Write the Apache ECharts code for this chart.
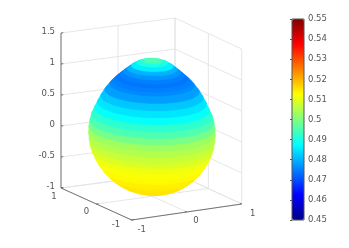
<!DOCTYPE html>
<html><head><meta charset="utf-8">
<style>html,body{margin:0;padding:0;background:#fff}#c{width:349px;height:248px}</style>
<script src="https://cdn.jsdelivr.net/npm/echarts@6/dist/echarts.min.js"></script>
</head><body><div id="c"></div>
<script>
// ---- data ----
var xTicks = [-1, 0, 1];
var yTicks = [-1, 0, 1];
var zTicks = [-1, -0.5, 0, 0.5, 1, 1.5];
var colorTicks = [0.45,0.46,0.47,0.48,0.49,0.5,0.51,0.52,0.53,0.54,0.55];
// egg, one row per latitude ring: height, ring radius, colour value
var ringZ = [-0.95,-0.93,-0.9,-0.85,-0.8,-0.75,-0.7,-0.6,-0.5,-0.4,-0.3,-0.2,-0.1,0,0.1,0.2,0.3,0.4,0.5,0.6,0.7,0.8,0.85,0.9,0.95,1.0,1.05,1.1,1.15,1.18,1.19,1.195];
var ringR = [0,0.2,0.31,0.43,0.515,0.585,0.645,0.74,0.81,0.865,0.91,0.94,0.955,0.963,0.96,0.945,0.92,0.875,0.83,0.78,0.72,0.645,0.6,0.55,0.495,0.44,0.38,0.32,0.24,0.16,0.1,0];
var ringV = [0.515,0.515,0.515,0.515,0.515,0.5145,0.514,0.513,0.512,0.511,0.509,0.507,0.505,0.503,0.499,0.495,0.492,0.488,0.485,0.482,0.478,0.476,0.475,0.474,0.475,0.477,0.48,0.486,0.49,0.494,0.496,0.497];
// ---- styling / layout ----
var jet = ['#000084','#0000ff','#0080ff','#00ffff','#80ff80','#ffff00','#ff8000','#ff0000','#800000'];
var floorFront=[131.7,220], floorLeft=[61,188], floorRight=[241.7,204], floorBack=[175,173];
var zUnit = 62, zFloor = -1, axisMax = 1.5;
var txt = '#555', gridC = '#e3e3e3', axisC = '#666', fnt = '8.5px "DejaVu Sans"';
var yLabelOffset = [[-15.7,5],[-10,8],[-7,9]];   // -1 (front) .. 1 (left)
var xLabelOffset = [[10,9.3],[9.3,9],[11,10]];   // -1 (front) .. 1 (right)

// x runs front->right, y runs front->left
function project(x,y,z){
  var u=(x+1)/2, v=(y+1)/2, out=[0,0];
  for(var i=0;i<2;i++){
    out[i]=(1-u)*(1-v)*floorFront[i]+u*(1-v)*floorRight[i]+(1-u)*v*floorLeft[i]+u*v*floorBack[i];
  }
  out[1]-=(z-zFloor)*zUnit;
  return out;
}
var segGrid=[], segAxis=[];
zTicks.forEach(function(z){
  segGrid.push([-1,1,z,1,1,z]);      // left->back wall
  segGrid.push([1,1,z,1,-1,z]);      // back->right wall
});
[-1,0,1].forEach(function(t){
  segGrid.push([t,1,-1,t,1,axisMax]);
  segGrid.push([1,t,-1,1,t,axisMax]);
  segGrid.push([t,-1,-1,t,1,-1]);
  segGrid.push([-1,t,-1,1,t,-1]);
});
segAxis.push([-1,1,-1,-1,1,axisMax]);
segAxis.push([-1,-1,-1,-1,1,-1]);
segAxis.push([-1,-1,-1,1,-1,-1]);
zTicks.forEach(function(z){segAxis.push([-1,1,z,-0.96,1,z]);});
xTicks.forEach(function(t){segAxis.push([t,-1,-1,t,-0.95,-1]);});
yTicks.forEach(function(t){segAxis.push([-1,t,-1,-0.96,t,-1]);});

function segRender(color,w){
  return function(p,api){
    var a=project(api.value(0),api.value(1),api.value(2));
    var b=project(api.value(3),api.value(4),api.value(5));
    var A=api.coord(a),B=api.coord(b);
    return {type:'line',shape:{x1:A[0],y1:A[1],x2:B[0],y2:B[1]},style:{stroke:color,lineWidth:w,fill:null}};
  };
}
function hull(points){
  var p=points.slice().sort(function(a,b){return a[0]-b[0]||a[1]-b[1];});
  function cross(o,a,b){return (a[0]-o[0])*(b[1]-o[1])-(a[1]-o[1])*(b[0]-o[0]);}
  var lo=[],up=[],i;
  for(i=0;i<p.length;i++){while(lo.length>=2&&cross(lo[lo.length-2],lo[lo.length-1],p[i])<=0)lo.pop();lo.push(p[i]);}
  for(i=p.length-1;i>=0;i--){while(up.length>=2&&cross(up[up.length-2],up[up.length-1],p[i])<=0)up.pop();up.push(p[i]);}
  lo.pop();up.pop();
  return lo.concat(up);
}
// a band: the outline of one ring and the ring above it
function ringRender(p,api){
  var i0=p.dataIndex, i1=Math.min(i0+1,ringZ.length-1), pts=[];
  [i0,i1].forEach(function(k){
    for(var i=0;i<96;i++){
      var t=i/96*2*Math.PI;
      pts.push(api.coord(project(ringR[k]*Math.cos(t),ringR[k]*Math.sin(t),ringZ[k])));
    }
  });
  var c=api.visual('color');
  return {type:'polygon',shape:{points:hull(pts)},style:{fill:c,stroke:c,lineWidth:0.5}};
}
var labels=[];
zTicks.forEach(function(z){var q=project(-1,1,z);labels.push({t:String(z),x:q[0]-6,y:q[1]-1,a:'right'});});
yTicks.forEach(function(t,i){var q=project(-1,t,-1);labels.push({t:String(t),x:q[0]+yLabelOffset[i][0],y:q[1]+yLabelOffset[i][1],a:'center'});});
xTicks.forEach(function(t,i){var q=project(t,-1,-1);labels.push({t:String(t),x:q[0]+xLabelOffset[i][0],y:q[1]+xLabelOffset[i][1],a:'center'});});

var chart=echarts.init(document.getElementById('c'),null,{renderer:'canvas'});
chart.setOption({
  animation:false,
  backgroundColor:'#fff',
  grid:[
    {left:0,top:0,width:349,height:248,show:false},
    {left:292,top:19,width:12,height:201,show:true,borderColor:'#555',borderWidth:1,backgroundColor:'transparent',z:10}
  ],
  xAxis:[
    {type:'value',show:false,min:0,max:349,gridIndex:0},
    {type:'value',show:false,min:0,max:1,gridIndex:1}
  ],
  yAxis:[
    {type:'value',show:false,min:0,max:248,inverse:true,gridIndex:0},
    {type:'value',gridIndex:1,position:'right',min:0.45,max:0.55,interval:0.01,z:10,
     splitLine:{show:false},
     axisLine:{show:false},
     axisTick:{show:true,inside:true,length:2,lineStyle:{color:'#555',width:1}},
     axisLabel:{show:true,color:txt,fontFamily:'DejaVu Sans',fontSize:8.5,margin:4,
       customValues:colorTicks,
       formatter:function(v){return String(+(+v).toFixed(2));}}}
  ],
  visualMap:[{
    type:'continuous',min:0.45,max:0.55,dimension:2,seriesIndex:1,
    show:true,left:292,top:19,itemWidth:12,itemHeight:201,padding:0,
    text:null,showLabel:false,calculable:false,hoverLink:false,
    textStyle:{fontSize:0},
    inRange:{color:jet}
  }],
  series:[
    {type:'custom',coordinateSystem:'cartesian2d',xAxisIndex:0,yAxisIndex:0,silent:true,clip:false,
     renderItem:segRender(gridC,0.9),data:segGrid},
    {type:'custom',coordinateSystem:'cartesian2d',xAxisIndex:0,yAxisIndex:0,silent:true,clip:false,
     encode:{x:0,y:1},renderItem:ringRender,
     data:ringZ.map(function(z,i){return [z,ringR[i],ringV[i]];})},
    {type:'custom',coordinateSystem:'cartesian2d',xAxisIndex:0,yAxisIndex:0,silent:true,clip:false,
     renderItem:segRender(axisC,0.9),data:segAxis},
    {type:'custom',coordinateSystem:'cartesian2d',xAxisIndex:0,yAxisIndex:0,silent:true,clip:false,
     renderItem:function(p,api){
       var L=labels[p.dataIndex],c=api.coord([L.x,L.y]);
       return {type:'text',style:{text:L.t,x:c[0],y:c[1],fill:txt,font:fnt,align:L.a,verticalAlign:'middle'}};
     },
     data:labels.map(function(L){return [L.x,L.y];})}
  ]
});
</script></body></html>
